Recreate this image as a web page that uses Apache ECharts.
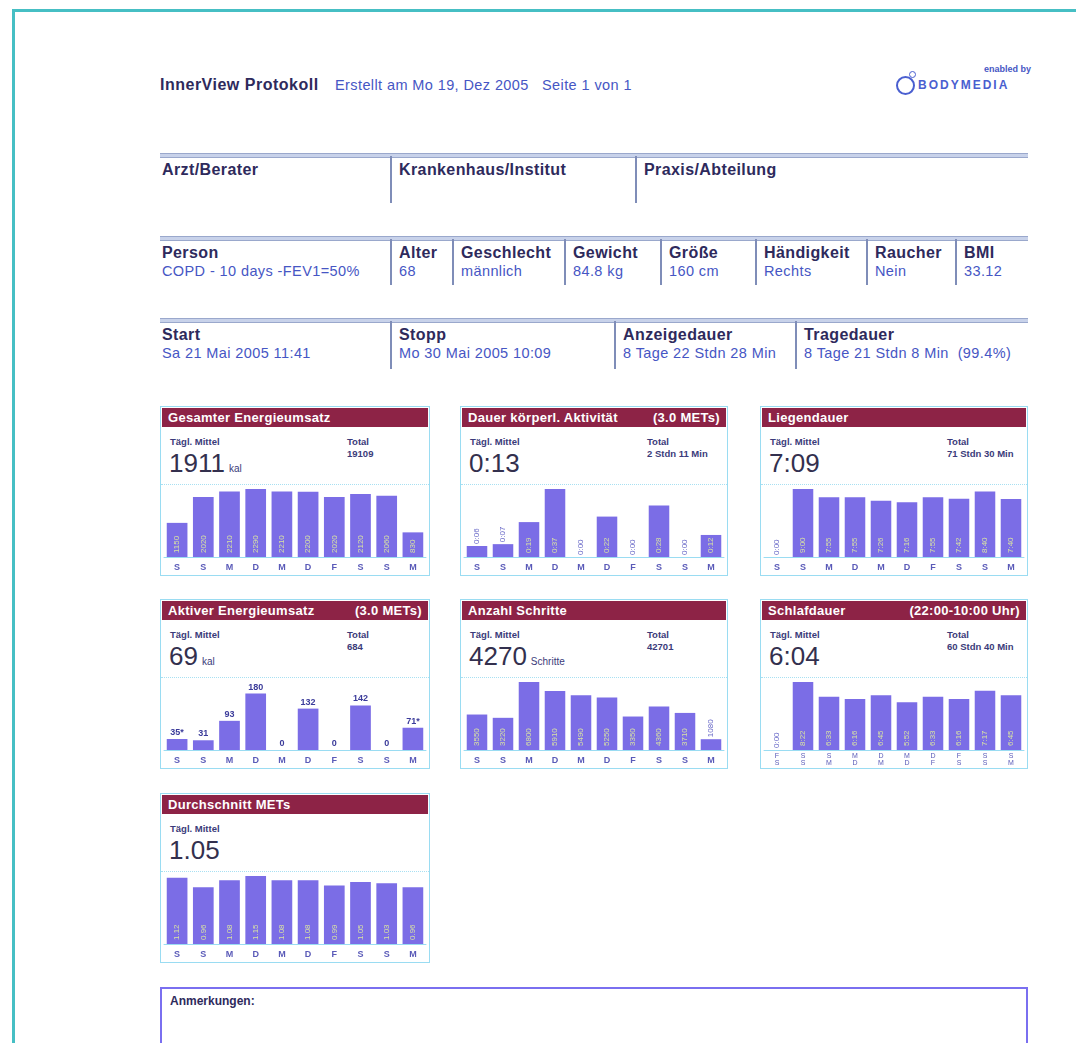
<!DOCTYPE html>
<html>
<head>
<meta charset="utf-8">
<script src="https://cdn.jsdelivr.net/npm/echarts@6/dist/echarts.min.js"></script>
<style>
  html, body { margin: 0; padding: 0; background: #fff; }
  body { width: 1076px; height: 1043px; position: relative; overflow: hidden; font-family: "Liberation Sans", Arial, sans-serif; }
  .frame-top { position: absolute; left: 12px; top: 9px; right: 0; height: 3px; background: #46bfc4; }
  .frame-left { position: absolute; left: 12px; top: 9px; bottom: 0; width: 3px; background: #46bfc4; }
  .abs { position: absolute; white-space: nowrap; }
  .h1 { font-weight: bold; font-size: 16px; letter-spacing: 0.5px; color: #2e2a5c; }
  .sub { font-size: 14.5px; letter-spacing: 0.4px; color: #4656c4; }
  .rule { position: absolute; left: 160px; width: 868px; height: 3px; border-top: 1px solid #9aa8cc; border-bottom: 1px solid #9aa8cc; background: #c8d2ea; }
  .vsep { position: absolute; width: 2px; background: #7f8db8; }
  .th { font-weight: bold; font-size: 16px; letter-spacing: 0.4px; color: #2e2a5c; }
  .td { font-size: 14.5px; letter-spacing: 0.4px; color: #4656c4; }
  .card { position: absolute; height: 170px; border: 1px solid #9adcf2; box-sizing: border-box; background: #fff; }
  .card .head { position: absolute; left: 1px; right: 1px; top: 1px; height: 19px; background: #8d2346; color: #fff;
    font-weight: bold; font-size: 13px; letter-spacing: 0.3px; display: flex; justify-content: space-between; align-items: center; padding: 0 6px; }
  .card .lbl { position: absolute; font-weight: bold; font-size: 9.5px; color: #3b3b7a; white-space: nowrap; }
  .card .big { position: absolute; left: 8px; top: 42px; font-size: 26px; line-height: 28px; color: #33304e; white-space: nowrap; }
  .card .big small { font-size: 10px; margin-left: 4px; color: #3b3b7a; }
  .card .chart { position: absolute; left: 0; right: 0; top: 77px; height: 91px; border-top: 1px dotted #a8e0f2; }
  .notes { position: absolute; left: 160px; top: 987px; width: 868px; height: 80px; border: 2px solid #7a6ff0; box-sizing: border-box; }
  .logo-ring { position: absolute; left: 896px; top: 76px; width: 15px; height: 15px; border: 2px solid #4a5fd0; border-radius: 50%; }
  .logo-dot { position: absolute; left: 909px; top: 71px; width: 5px; height: 5px; border: 1.5px solid #4a5fd0; border-radius: 50%; }
</style>
</head>
<body>
<div class="frame-top"></div>
<div class="frame-left"></div>

<div class="abs h1" style="left:160px;top:76px">InnerView Protokoll</div>
<div class="abs sub" style="left:335px;top:77px">Erstellt am Mo 19, Dez 2005&nbsp;&nbsp; Seite 1 von 1</div>
<div class="abs" style="left:984px;top:64px;font-size:9px;font-weight:bold;color:#4656c4">enabled by</div>
<div class="logo-ring"></div>
<div class="logo-dot"></div>
<div class="abs" style="left:918px;top:78px;font-size:12px;font-weight:bold;letter-spacing:2px;color:#4a5fd0">BODYMEDIA</div>

<div id="tables"></div>

<div class="notes"><div class="abs" style="left:8px;top:5px;font-size:12px;font-weight:bold;color:#2e2a5c">Anmerkungen:</div></div>

<div id="cards"></div>

<script>
// Tageswerte 21.-30. Mai 2005 (Sa bis Mo)
const tage = ["S", "S", "M", "D", "M", "D", "F", "S", "S", "M"];
const naechte = ["F\nS", "S\nS", "S\nM", "M\nD", "D\nM", "M\nD", "D\nF", "F\nS", "S\nS", "S\nM"];

const energieGesamt = [1150, 2020, 2210, 2290, 2210, 2200, 2020, 2120, 2060, 830];   // kal
const aktivMinuten = [6, 7, 19, 37, 0, 22, 0, 28, 0, 12];                             // min
const liegenMinuten = [0, 540, 475, 475, 446, 436, 475, 462, 520, 460];               // min
const energieAktiv = [35, 31, 93, 180, 0, 132, 0, 142, 0, 71];                        // kal
const schritte = [3550, 3220, 6800, 5910, 5490, 5250, 3350, 4360, 3710, 1080];
const schlafMinuten = [0, 502, 393, 376, 405, 352, 393, 376, 437, 405];               // min
const mets = [1.12, 0.96, 1.08, 1.15, 1.08, 1.08, 0.99, 1.05, 1.03, 0.96];

// Kopf-Tabellen
const tabellen = [
  { top: 153, cols: [["Arzt/Berater", ""], ["Krankenhaus/Institut", ""], ["Praxis/Abteilung", ""]], x: [160, 390, 635], h: 47 },
  { top: 236, cols: [["Person", "COPD - 10 days -FEV1=50%"], ["Alter", "68"], ["Geschlecht", "männlich"], ["Gewicht", "84.8 kg"],
      ["Größe", "160 cm"], ["Händigkeit", "Rechts"], ["Raucher", "Nein"], ["BMI", "33.12"]],
    x: [160, 390, 452, 564, 660, 755, 866, 955], h: 46 },
  { top: 318, cols: [["Start", "Sa 21 Mai 2005 11:41"], ["Stopp", "Mo 30 Mai 2005 10:09"], ["Anzeigedauer", "8 Tage 22 Stdn 28 Min"],
      ["Tragedauer", "8 Tage 21 Stdn 8 Min&nbsp; (99.4%)"]], x: [160, 390, 614, 795], h: 48 },
];

const tbl = document.getElementById("tables");
tabellen.forEach(t => {
  let html = `<div class="rule" style="top:${t.top}px"></div>`;
  t.cols.forEach((c, i) => {
    const x = t.x[i];
    if (i > 0) html += `<div class="vsep" style="left:${x}px;top:${t.top + 3}px;height:${t.h}px"></div>`;
    const tx = i > 0 ? x + 9 : x + 2;
    html += `<div class="abs th" style="left:${tx}px;top:${t.top + 8}px">${c[0]}</div>`;
    if (c[1]) html += `<div class="abs td" style="left:${tx}px;top:${t.top + 27}px">${c[1]}</div>`;
  });
  tbl.insertAdjacentHTML("beforeend", html);
});

const hm = v => `${Math.floor(v / 60)}:${String(Math.round(v % 60)).padStart(2, "0")}`;

const panels = [
  { x: 160, y: 406, w: 270, title: "Gesamter Energieumsatz", right: "", mittel: "1911", unit: "kal", total: "19109",
    data: energieGesamt, fmt: v => String(v) },
  { x: 460, y: 406, w: 268, title: "Dauer körperl. Aktivität", right: "(3.0 METs)", mittel: "0:13", unit: "", total: "2 Stdn 11 Min",
    data: aktivMinuten, fmt: hm },
  { x: 760, y: 406, w: 268, title: "Liegendauer", right: "", mittel: "7:09", unit: "", total: "71 Stdn 30 Min",
    data: liegenMinuten, fmt: hm },
  { x: 160, y: 599, w: 270, title: "Aktiver Energieumsatz", right: "(3.0 METs)", mittel: "69", unit: "kal", total: "684",
    data: energieAktiv, fmt: v => String(v), oben: true, headroom: 1.24 },
  { x: 460, y: 599, w: 268, title: "Anzahl Schritte", right: "", mittel: "4270", unit: "Schritte", total: "42701",
    data: schritte, fmt: v => String(v) },
  { x: 760, y: 599, w: 268, title: "Schlafdauer", right: "(22:00-10:00 Uhr)", mittel: "6:04", unit: "", total: "60 Stdn 40 Min",
    data: schlafMinuten, fmt: hm, cats: naechte },
  { x: 160, y: 793, w: 270, title: "Durchschnitt METs", right: "", mittel: "1.05", unit: "", total: "",
    data: mets, fmt: v => v.toFixed(2) },
];

const charts = {};
const cards = document.getElementById("cards");

panels.forEach((p, i) => {
  const div = document.createElement("div");
  div.className = "card";
  div.style.cssText = `left:${p.x}px;top:${p.y}px;width:${p.w}px`;
  div.innerHTML = `
    <div class="head"><span>${p.title}</span><span>${p.right}</span></div>
    <div class="lbl" style="left:9px;top:29px">Tägl. Mittel</div>
    <div class="big">${p.mittel}${p.unit ? `<small>${p.unit}</small>` : ""}</div>
    ${p.total ? `<div class="lbl" style="left:186px;top:29px">Total</div>
    <div class="lbl" style="left:186px;top:41px">${p.total}</div>` : ""}
    <div class="chart" id="chart-${i}"></div>`;
  cards.appendChild(div);

  const max = Math.max(...p.data) * (p.headroom || 1.03);
  const n = p.data.length;
  const items = p.data.map((v, k) => {
    const kurz = v < max * 0.22;
    let label;
    if (p.oben) {
      label = { show: true, position: "top", distance: 2, fontSize: 9, fontWeight: "bold", color: "#3b3b9a",
        formatter: () => v + (k === 0 || k === n - 1 ? "*" : "") };
    } else if (kurz) {
      label = { show: true, position: "top", rotate: 90, align: "left", verticalAlign: "middle", distance: 2,
        fontSize: 8, color: "#6a6ac8", formatter: () => p.fmt(v) };
    } else {
      label = { show: true, position: "insideBottom", rotate: 90, align: "left", verticalAlign: "middle", distance: 4,
        fontSize: 8, color: "#d8e2a4", formatter: () => p.fmt(v) };
    }
    return { value: v, label };
  });

  const chart = charts[i] = echarts.init(document.getElementById(`chart-${i}`));
  chart.setOption({
    animation: false,
    grid: { left: 3, right: 3, top: 2, bottom: 19 },
    xAxis: {
      type: "category", data: p.cats || tage,
      axisLine: { lineStyle: { color: "#9adcf2", width: 1 } },
      axisTick: { show: false },
      axisLabel: p.cats
        ? { fontSize: 7, lineHeight: 7, color: "#5a5ab8", margin: 3 }
        : { fontSize: 9, fontWeight: "bold", color: "#5a5ab8", margin: 6 },
    },
    yAxis: { type: "value", min: 0, max, show: false, splitLine: { show: false } },
    series: [{
      type: "bar", data: items, barCategoryGap: "21%",
      itemStyle: { color: "#7b6de6" },
    }],
  });
});
</script>
</body>
</html>
